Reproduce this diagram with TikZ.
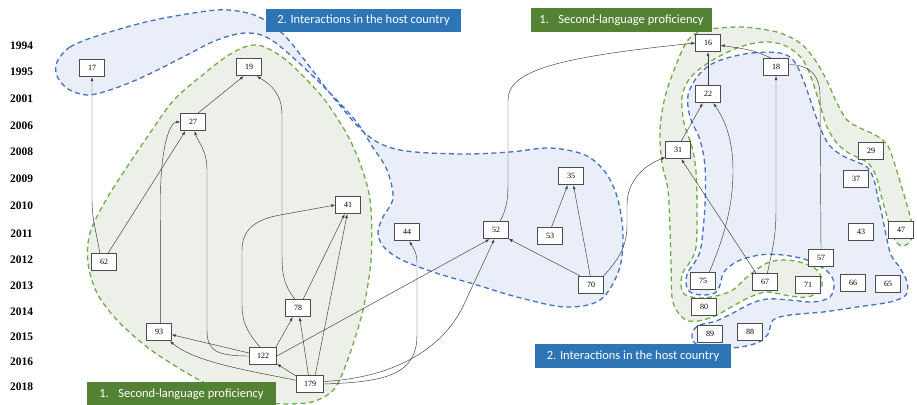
\documentclass[tikz,border=0pt]{standalone}
\usepackage{fontspec}
\setmainfont{Liberation Serif}
\newfontfamily\titlefont{Carlito}
\usetikzlibrary{arrows.meta}
\definecolor{bluefill}{HTML}{E9EEF8}
\definecolor{blueline}{HTML}{4472C4}
\definecolor{greenfill}{HTML}{EDF0E8}
\definecolor{greenline}{HTML}{70AD47}
\definecolor{bluetitle}{HTML}{2E75B6}
\definecolor{greentitle}{HTML}{548235}
\definecolor{edgecol}{HTML}{3A3A3A}
\begin{document}
\begin{tikzpicture}[x=1pt,y=-1pt,
  nd/.style={draw=black!70, line width=0.8pt, fill=white, minimum width=24.5pt, minimum height=17.5pt, inner sep=0pt, font=\fontsize{8}{9}\selectfont},
  wide/.style={minimum width=27pt},
  edge/.style={draw=edgecol, line width=0.45pt, -{Latex[length=4pt,width=2.8pt]}},
  plainedge/.style={draw=edgecol, line width=0.45pt},
  year/.style={font=\fontsize{11.5}{12}\selectfont\bfseries, inner sep=0pt},
  bluereg/.style={fill=bluefill, draw=blueline, line width=1.3pt, dash pattern=on 5pt off 3.5pt},
  greenreg/.style={fill=greenfill, draw=greenline, line width=1.3pt, dash pattern=on 5pt off 3.5pt},
  ttl/.style={text=white, font=\titlefont\fontsize{12.5}{14}\selectfont, inner sep=0pt, minimum height=23pt},
]
\fill[white] (0,0) rectangle (917,404);
\useasboundingbox (0,0) rectangle (917,404);

% ---------- regions ----------
\path[bluereg] plot[smooth cycle, tension=0.55] coordinates {
(57,62) (70,47) (100,35) (150,21) (200,12) (228,10) (257,16) (282,33) (303,58) (333,97) (367,135) (400,150) (460,154) (510,152) (550,148) (585,155) (606,173) (618,200) (623,235) (619,270) (600,300) (565,307) (517,297) (477,285) (433,272) (400,259) (383,246) (378,232) (383,217) (393,198) (387,170) (372,146) (355,120) (317,80) (273,41) (247,33) (217,40) (183,57) (143,77) (110,90) (87,95) (68,89) (57,76)};

\path[greenreg] plot[smooth cycle, tension=0.55] coordinates {
(257,45) (282,57) (305,78) (327,103) (350,140) (365,178) (371,210) (371,260) (363,310) (349,356) (335,388) (315,401) (290,404) (262,402) (230,394) (203,382) (177,367) (147,347) (117,320) (97,293) (88,263) (90,233) (106,200) (127,167) (150,133) (173,101) (200,77) (232,53)};

\path[bluereg] plot[smooth cycle, tension=0.55] coordinates {
(727,58) (752,53) (780,53) (794,61) (804,82) (813,108) (821,130) (830,146) (843,156) (857,162) (868,168) (874,180) (878,198) (882,215) (886,235) (891,255) (900,268) (907,282) (906,295) (890,302) (857,307) (823,312) (790,315) (773,320) (768,334) (757,343) (733,348) (705,348) (693,341) (693,331) (700,325) (716,321) (733,313) (750,304) (767,299) (790,300) (813,302) (830,297) (834,283) (827,271) (807,260) (783,255) (760,255) (738,261) (724,272) (720,285) (715,293) (702,295) (690,292) (686,283) (688,272) (695,262) (701,247) (705,205) (705,167) (700,140) (690,117) (688,95) (697,77) (710,65)};

\path[greenreg] plot[smooth cycle, tension=0.55] coordinates {
(688,40) (705,30) (740,27) (767,30) (783,34) (800,43) (813,57) (825,77) (837,103) (847,120) (860,128) (877,136) (888,146) (895,165) (901,185) (907,205) (912,225) (911,240) (903,246) (896,242) (891,230) (886,213) (881,195) (876,176) (869,164) (859,158) (847,152) (836,142) (827,127) (820,105) (812,80) (803,60) (788,47) (770,42) (750,44) (730,51) (708,63) (690,78) (682,97) (684,123) (692,147) (696,172) (697,213) (696,247) (690,262) (683,272) (681,284) (684,294) (698,298) (716,296) (733,290) (747,277) (767,263) (785,260) (803,263) (817,270) (822,280) (820,290) (808,297) (790,296) (767,292) (750,297) (733,306) (715,316) (698,321) (686,320) (677,311) (672,297) (671,263) (670,230) (668,190) (662,163) (660,130) (665,97) (676,65)};

% ---------- year labels ----------
\node[year] (y1994) at (21.5,45.5) {1994};
\node[year] (y1995) at (21.5,71.5) {1995};
\node[year] (y2001) at (21.5,99) {2001};
\node[year] (y2006) at (21.5,125.5) {2006};
\node[year] (y2008) at (21.5,152) {2008};
\node[year] (y2009) at (21.5,179) {2009};
\node[year] (y2010) at (21.5,205.5) {2010};
\node[year] (y2011) at (21.5,233.5) {2011};
\node[year] (y2012) at (21.5,260) {2012};
\node[year] (y2013) at (21.5,286) {2013};
\node[year] (y2014) at (21.5,312) {2014};
\node[year] (y2015) at (21.5,337) {2015};
\node[year] (y2016) at (21.5,362) {2016};
\node[year] (y2018) at (21.5,387) {2018};

% ---------- nodes ----------
\node[nd] (n17) at (92,68) {17};
\node[nd] (n19) at (249,67) {19};
\node[nd] (n27) at (193,122) {27};
\node[nd] (n41) at (348,205) {41};
\node[nd] (n62) at (104,262) {62};
\node[nd] (n44) at (407,232) {44};
\node[nd] (n78) at (298,308) {78};
\node[nd] (n93) at (159,332) {93};
\node[nd,wide] (n122) at (263,356) {122};
\node[nd,wide] (n179) at (310,384) {179};
\node[nd] (n16) at (708,43) {16};
\node[nd] (n18) at (776,67) {18};
\node[nd] (n22) at (708,94) {22};
\node[nd] (n31) at (678,150) {31};
\node[nd] (n35) at (571,176) {35};
\node[nd] (n29) at (871,151) {29};
\node[nd] (n37) at (856,179) {37};
\node[nd] (n52) at (496,230) {52};
\node[nd] (n53) at (550,236) {53};
\node[nd] (n70) at (591,285) {70};
\node[nd] (n43) at (861,232) {43};
\node[nd] (n47) at (901,230) {47};
\node[nd] (n57) at (821,258) {57};
\node[nd] (n75) at (703,281) {75};
\node[nd] (n67) at (765,282) {67};
\node[nd] (n71) at (808,285) {71};
\node[nd] (n66) at (853,283) {66};
\node[nd] (n65) at (888,284) {65};
\node[nd] (n80) at (704,307) {80};
\node[nd] (n89) at (710,334) {89};
\node[nd] (n88) at (750,332) {88};

% ---------- edges ----------
\draw[edge] (n62.115) .. controls (97,235) and (92,220) .. (92,200) -- (n17.south);
\draw[edge] (n62.65) -- (n27.-130);
\draw[edge] (n93.80) -- (160.5,195) .. controls (161,145) and (170,122) .. (n27.west);
\draw[edge] (n122.west) .. controls (215,356) and (207,350) .. (207,330) -- (207,170) .. controls (207,150) and (198,142) .. (n27.-80);
\draw[edge] (n27.60) -- (n19.-120);
\draw[edge] (n78.110) .. controls (284,285) and (282,275) .. (282,255) -- (282,115) .. controls (282,95) and (272,85) .. (n19.-50);
\draw[edge] (n122.110) .. controls (250,335) and (242,325) .. (242,305) -- (242,250) .. controls (242,228) and (258,219) .. (280,215) -- (n41.west);
\draw[edge] (n122.35) -- (n78.-120);
\draw[edge] (n78.60) -- (n41.-110);
\draw[edge] (n179.60) -- (n41.-95);
\draw[edge] (n179.100) -- (n78.-80);
\draw[edge] (n179.150) -- (n122.-30);
\draw[edge] (n122.168) -- (n93.-12);
\draw[edge] (n179.165) .. controls (245,370) and (195,362) .. (n93.-40);
\draw[edge] (n179.10) .. controls (400,377) and (447,345) .. (466,300) -- (n52.-100);
\draw[edge] (n179.east) .. controls (385,382) and (417,375) .. (417,335) -- (417,262) .. controls (417,252) and (412,246) .. (n44.-75);
\draw[edge] (n122.east) -- (n52.-125);
\draw[edge] (n70.140) -- (n52.-35);
\draw[edge] (n53.80) -- (n35.-110);
\draw[edge] (n70.95) -- (n35.-75);
\draw[edge] (n52.65) .. controls (506,210) and (508,200) .. (508,185) -- (508,100) .. controls (508,70) and (560,57) .. (n16.west);
\draw[edge] (n70.north east) .. controls (620,258) and (627,245) .. (627,225) -- (627,205) .. controls (627,180) and (645,165) .. (n31.-150);
\draw[edge] (n31.70) -- (n22.-120);
\draw[edge] (n67.135) -- (n31.-70);
\draw[edge] (n75.55) .. controls (725,235) and (733,205) .. (733,170) .. controls (733,140) and (725,120) .. (n22.-60);
\draw[edge] (n22.north) -- (n16.south);
\draw[edge] (n18.120) .. controls (752,50) .. (n16.-10);
\draw[edge] (n67.75) .. controls (771,255) and (776,240) .. (776,210) -- (n18.south);
\draw[plainedge] (n57.north) -- (820,95) .. controls (820,72) and (805,64) .. (n18.10);

% ---------- titles ----------
\node[ttl, fill=bluetitle, minimum width=195pt] (tb1) at (363.5,20.5) {2. Interactions in the host country};
\node[ttl, fill=greentitle, minimum width=181pt, minimum height=24pt] (tg1) at (621.5,20) {1.\hspace{9.5pt}Second-language proficiency};
\node[ttl, fill=bluetitle, minimum width=196pt, minimum height=24pt] (tb2) at (633,356) {2. Interactions in the host country};
\node[ttl, fill=greentitle, minimum width=189pt, minimum height=24pt] (tg2) at (181.5,394) {1.\hspace{9.5pt}Second-language proficiency};
\end{tikzpicture}
\end{document}
